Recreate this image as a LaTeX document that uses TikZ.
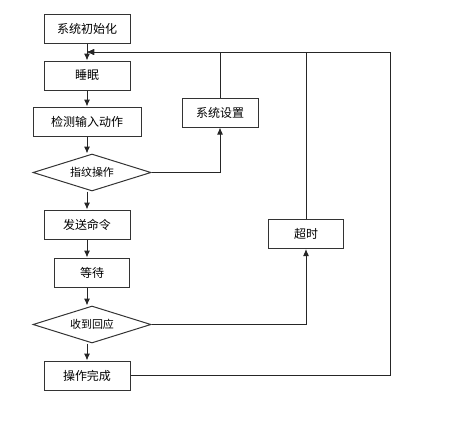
\documentclass[tikz,border=0pt]{standalone}
\usepackage{fontspec}
\usepackage{xcolor}
\usepackage{tikz}
\usetikzlibrary{arrows.meta,positioning,shapes.geometric}
\newfontfamily\cjk{Noto Sans CJK SC}
\definecolor{FlowGray}{HTML}{333333}

\begin{document}
\begin{tikzpicture}[
  x=1pt, y=-1pt,
  node distance=17pt,
  stepbox/.style={draw=FlowGray, line width=1pt, minimum width=86pt, minimum height=29pt, inner sep=0pt, align=center, font=\cjk\fontsize{12}{14}\selectfont},
  decide/.style={draw=FlowGray, line width=1pt, diamond, aspect=3.2, minimum width=118pt, minimum height=37pt, inner sep=0pt, font=\cjk\fontsize{11}{13}\selectfont},
  arrow/.style={-{Latex[length=7pt,width=6pt]}, line width=1pt, color=black!85}
]
  \useasboundingbox (0,0) rectangle (461,424);

  \node[stepbox] (init) at (87,28.5) {系统初始化};
  \node[stepbox, below=of init] (sleep) {睡眠};
  \node[stepbox, below=16pt of sleep, minimum width=108pt] (detect) {检测输入动作};
  \node[decide, below=17pt of detect, xshift=5pt] (finger) {指纹操作};
  \node[stepbox, below=18pt of finger, xshift=-5pt] (send) {发送命令};
  \node[stepbox, below=18pt of send, xshift=5pt, minimum width=75pt] (wait) {等待};
  \node[decide, below=18pt of wait] (reply) {收到回应};
  \node[stepbox, below=17pt of reply, xshift=-5pt] (done) {操作完成};

  \node[stepbox, minimum width=76pt] (setting) at (220,112.5) {系统设置};
  \node[stepbox, minimum width=75pt] (timeout) at (306,234) {超时};

  \coordinate (merge) at (87,52);
  \coordinate (corner) at (390,52);

  \draw[arrow] (init) -- (sleep);
  \draw[arrow] (sleep) -- (detect);
  \draw[arrow] (detect.south) -- (detect.south |- finger.north);
  \draw[arrow] (finger.south -| send) -- (send.north);
  \draw[arrow] (send.south) -- (send.south |- wait.north);
  \draw[arrow] (wait.south -| send) -- (send |- reply.north);
  \draw[arrow] (reply.south -| done) -- (done.north);

  \draw[arrow] (finger.east) -| (setting.south);
  \draw[arrow] (setting.north) |- (merge);
  \draw[arrow] (reply.east) -| (timeout.south);
  \draw[arrow] (timeout.north) |- (merge);
  \draw[arrow] (done.east) -| (corner) -- (merge);
\end{tikzpicture}
\end{document}
